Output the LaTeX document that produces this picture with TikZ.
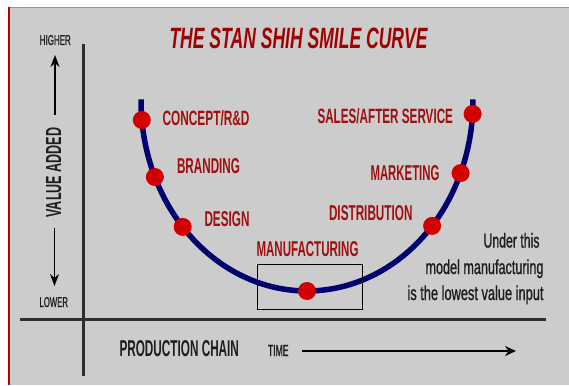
\documentclass[tikz,border=0pt]{standalone}
\usepackage{fontspec}
\setmainfont{Liberation Sans}
\newfontfamily\notefont[FakeBold=1.2]{Liberation Sans}
\usepackage{graphicx}
\usetikzlibrary{arrows.meta}
\definecolor{panel}{HTML}{CCCCCC}
\definecolor{lblred}{HTML}{A00F0F}
\definecolor{titlered}{HTML}{A00000}
\definecolor{dotred}{HTML}{D20000}
\definecolor{navy}{HTML}{00006E}
\definecolor{axisgray}{HTML}{2E2E2E}
\definecolor{inkgray}{HTML}{1E1E1E}
\definecolor{leftred}{HTML}{B00000}
\definecolor{topred}{HTML}{C08080}
\newcommand{\fitto}[3]{\resizebox{#1pt}{#2pt}{#3}}
\begin{document}
\begin{tikzpicture}[x=1pt,y=-1pt,
  txt/.style={inner sep=0pt, outer sep=0pt, anchor=base west},
  titlelbl/.style={txt, text=titlered, font=\bfseries\itshape},
  lbl/.style={txt, text=lblred, font=\bfseries},
  axlbl/.style={txt, text=inkgray, font=\bfseries},
  smalllbl/.style={txt, text=inkgray, font=\notefont},
  note/.style={txt, text=inkgray, font=\notefont},
  dot/.style={circle, fill=dotred, minimum size=18pt, inner sep=0pt},
  curve/.style={draw=navy, line width=5.5pt},
  axis/.style={draw=axisgray, line width=3pt},
  varrow/.style={draw=black, line width=1.4pt, -{Stealth[length=12pt,width=9pt]}},
  tarrow/.style={draw=black, line width=1.8pt, -{Stealth[length=11pt,width=10pt]}},
  mbox/.style={draw=black, line width=0.8pt, minimum width=105pt, minimum height=45pt, inner sep=0pt}]
\useasboundingbox (0,0) rectangle (569,385);
\fill[white] (0,0) rectangle (569,385);
\fill[panel] (8,7) rectangle (569,385);
\draw[topred, line width=1pt] (8,7.5) -- (569,7.5);
\draw[leftred, line width=2pt] (9,7) -- (9,385);

% title
\node[titlelbl] (title) at (169.5,48.5) {\fitto{258}{20.5}{THE STAN SHIH SMILE CURVE}};

% axes
\coordinate (vtop) at (83.5,44);
\coordinate (vbot) at (83.5,376);
\coordinate (hleft) at (20,319.5);
\coordinate (hright) at (546,319.5);
\draw[axis] (vtop) -- (vbot);
\draw[axis] (hleft) -- (hright);

% value axis labels
\node[smalllbl] (higher) at (39.8,45) {\fitto{31}{10}{HIGHER}};
\node[smalllbl] (lower) at (39.5,307) {\fitto{28.5}{10}{LOWER}};
\coordinate (uptail) at (55,115);
\coordinate (uptip) at (55,55);
\draw[varrow] (uptail) -- (uptip);
\coordinate (dntail) at (54.5,228);
\coordinate (dntip) at (54.5,286);
\draw[varrow] (dntail) -- (dntip);
\node[axlbl, rotate=90] (valueadded) at (61,217.5) {\fitto{90}{15}{VALUE ADDED}};

% production chain
\node[axlbl] (prodchain) at (119.5,356) {\fitto{119.5}{16}{PRODUCTION CHAIN}};
\node[smalllbl] (time) at (268,356) {\fitto{20.5}{11}{TIME}};
\coordinate (ttail) at (302,351);
\coordinate (ttip) at (516,351);
\draw[tarrow] (ttail) -- (ttip);

% smile curve
\draw[curve] plot[domain=-0.5:180.5, samples=150] ({307+166*cos(\x)}, {101+190*sin(\x)});

% manufacturing box
\node[mbox] (mfgbox) at (309.5,286.5) {};

% dots
\node[dot] (d-concept) at ({307+166*cos(174.26)}, {101+190*sin(174.26)}) {};
\node[dot] (d-branding) at ({307+166*cos(156.42)}, {101+190*sin(156.42)}) {};
\node[dot] (d-design) at ({307+166*cos(138.5)}, {101+190*sin(138.5)}) {};
\node[dot] (d-mfg) at ({307+166*cos(90)}, {101+190*sin(90)}) {};
\node[dot] (d-distrib) at ({307+166*cos(41.1)}, {101+190*sin(41.1)}) {};
\node[dot] (d-marketing) at ({307+166*cos(22.3)}, {101+190*sin(22.3)}) {};
\node[dot] (d-sales) at ({307+166*cos(3.9)}, {101+190*sin(3.9)}) {};

% labels
\node[lbl] (concept) at (162.5,125) {\fitto{87}{15}{CONCEPT/R\&D}};
\node[lbl] (sales) at (317.5,123.5) {\fitto{135.5}{15}{SALES/AFTER SERVICE}};
\node[lbl] (branding) at (177,173.5) {\fitto{63}{15}{BRANDING}};
\node[lbl] (marketing) at (370.5,180) {\fitto{69}{15}{MARKETING}};
\node[lbl] (design) at (204.5,226) {\fitto{45}{15}{DESIGN}};
\node[lbl] (distrib) at (329,220.5) {\fitto{83.5}{15}{DISTRIBUTION}};
\node[lbl] (mfg) at (256.5,256) {\fitto{102}{15}{MANUFACTURING}};

% note
\node[note] (note1) at (483.5,247.5) {\fitto{56}{14.5}{Under this}};
\node[note] (note2) at (425.5,274) {\fitto{118}{14.5}{model manufacturing}};
\node[note] (note3) at (407.5,300) {\fitto{136}{14.5}{is the lowest value input}};
\end{tikzpicture}
\end{document}
